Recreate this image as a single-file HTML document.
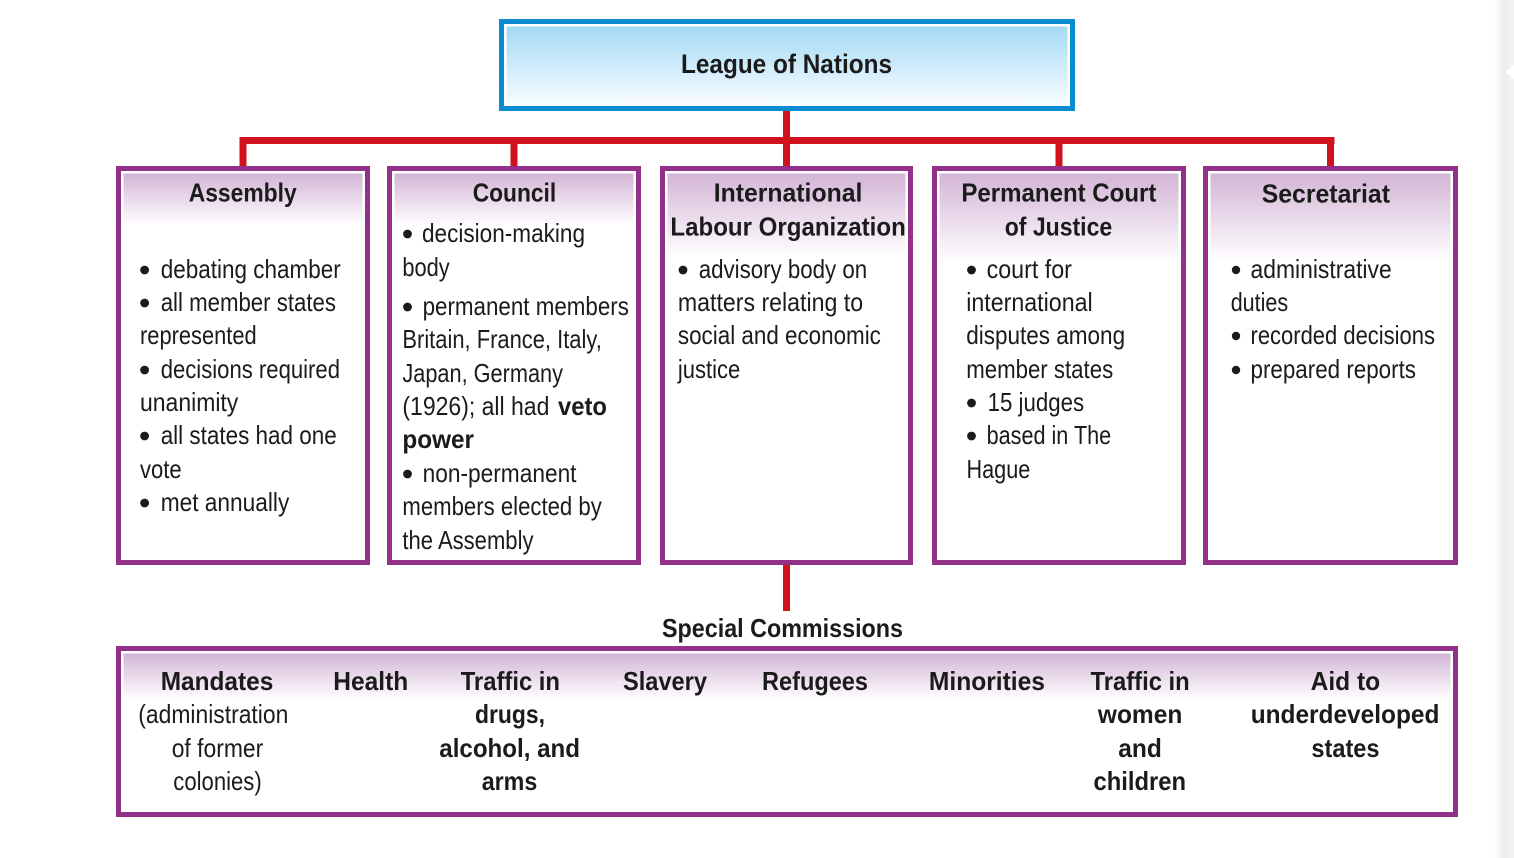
<!DOCTYPE html>
<html>
<head>
<meta charset="utf-8">
<style>
html,body{margin:0;padding:0;background:#fff;}
body{width:1514px;height:858px;overflow:hidden;}
svg{display:block;}
text{font-family:"Liberation Sans Narrow","Liberation Sans",sans-serif;fill:#1b1b1b;}
.b{font-weight:bold;}
</style>
</head>
<body>
<svg width="1514" height="858" viewBox="0 0 1514 858" xmlns="http://www.w3.org/2000/svg">
<defs>
<linearGradient id="bg" x1="0" y1="0" x2="0" y2="1">
<stop offset="0" stop-color="#a3d9f5"/>
<stop offset="1" stop-color="#f7fcff"/>
</linearGradient>
<linearGradient id="pg" x1="0" y1="0" x2="0" y2="1">
<stop offset="0" stop-color="#d3b5d6"/>
<stop offset="1" stop-color="#ffffff"/>
</linearGradient>
<linearGradient id="edge" x1="0" y1="0" x2="1" y2="0">
<stop offset="0" stop-color="#ffffff"/>
<stop offset="0.5" stop-color="#ececec"/>
<stop offset="1" stop-color="#f3f3f3"/>
</linearGradient>
</defs>

<!-- right edge strip -->
<rect x="1494" y="0" width="20" height="858" fill="url(#edge)"/>
<polygon points="1505,72 1514,65 1514,79" fill="#ffffff"/>

<!-- red connectors -->
<g fill="#d0121d">
<rect x="783" y="108" width="7" height="32"/>
<rect x="239.5" y="137" width="1095" height="7"/>
<rect x="239.5" y="137" width="7" height="31"/>
<rect x="510.5" y="137" width="7" height="31"/>
<rect x="783" y="137" width="7" height="31"/>
<rect x="1055.5" y="137" width="7" height="31"/>
<rect x="1327" y="137" width="7" height="31"/>
<rect x="783" y="563" width="7" height="48"/>
</g>

<!-- top box -->
<rect x="506.5" y="26.5" width="561" height="77" fill="url(#bg)"/>
<rect x="501.5" y="21.5" width="571" height="87" fill="none" stroke="#0a8dd0" stroke-width="5"/>
<text class="b" x="681" y="73" font-size="27" textLength="211" lengthAdjust="spacingAndGlyphs">League of Nations</text>

<!-- column header gradients -->
<rect x="123.5" y="173.5" width="239" height="52" fill="url(#pg)"/>
<rect x="394.5" y="173.5" width="239" height="52" fill="url(#pg)"/>
<rect x="667.5" y="173.5" width="238" height="84" fill="url(#pg)"/>
<rect x="939.5" y="173.5" width="239" height="90" fill="url(#pg)"/>
<rect x="1210.5" y="173.5" width="240" height="88" fill="url(#pg)"/>

<!-- column boxes -->
<g fill="none" stroke="#92318a" stroke-width="5">
<rect x="118.5" y="168.5" width="249" height="394"/>
<rect x="389.5" y="168.5" width="249" height="394"/>
<rect x="662.5" y="168.5" width="248" height="394"/>
<rect x="934.5" y="168.5" width="249" height="394"/>
<rect x="1205.5" y="168.5" width="250" height="394"/>
</g>

<!-- headers -->
<g class="b" font-size="26">
<text class="b" x="188.7" y="201.5" textLength="108" lengthAdjust="spacingAndGlyphs">Assembly</text>
<text class="b" x="472.7" y="201.5" textLength="83.5" lengthAdjust="spacingAndGlyphs">Council</text>
<text class="b" x="713.7" y="201.5" textLength="148.7" lengthAdjust="spacingAndGlyphs">International</text>
<text class="b" x="670.4" y="235.5" textLength="235.4" lengthAdjust="spacingAndGlyphs">Labour Organization</text>
<text class="b" x="961.4" y="201.5" textLength="195" lengthAdjust="spacingAndGlyphs">Permanent Court</text>
<text class="b" x="1004.7" y="235.5" textLength="107.5" lengthAdjust="spacingAndGlyphs">of Justice</text>
<text class="b" x="1261.7" y="202.5" textLength="128.3" lengthAdjust="spacingAndGlyphs">Secretariat</text>
</g>

<!-- bullets -->
<g fill="#1b1b1b">
<circle cx="144.6" cy="270" r="4.4"/>
<circle cx="144.6" cy="303" r="4.4"/>
<circle cx="144.6" cy="370" r="4.4"/>
<circle cx="144.6" cy="436" r="4.4"/>
<circle cx="144.6" cy="503" r="4.4"/>

<circle cx="407.5" cy="234" r="4.4"/>
<circle cx="407.5" cy="307" r="4.4"/>
<circle cx="407.5" cy="474" r="4.4"/>

<circle cx="683" cy="270" r="4.4"/>

<circle cx="971.5" cy="270" r="4.4"/>
<circle cx="971.5" cy="403" r="4.4"/>
<circle cx="971.5" cy="436" r="4.4"/>

<circle cx="1236" cy="270" r="4.2"/>
<circle cx="1236" cy="336" r="4.2"/>
<circle cx="1236" cy="370" r="4.2"/>
</g>

<!-- body text -->
<g font-size="26">
<!-- Assembly -->
<text x="160.7" y="278" textLength="180" lengthAdjust="spacingAndGlyphs">debating chamber</text>
<text x="160.7" y="311" textLength="175.3" lengthAdjust="spacingAndGlyphs">all member states</text>
<text x="140" y="344" textLength="116.7" lengthAdjust="spacingAndGlyphs">represented</text>
<text x="160.7" y="378" textLength="179.3" lengthAdjust="spacingAndGlyphs">decisions required</text>
<text x="140" y="411" textLength="98.3" lengthAdjust="spacingAndGlyphs">unanimity</text>
<text x="160.7" y="444" textLength="176" lengthAdjust="spacingAndGlyphs">all states had one</text>
<text x="140" y="478" textLength="41.7" lengthAdjust="spacingAndGlyphs">vote</text>
<text x="160.7" y="511" textLength="128.6" lengthAdjust="spacingAndGlyphs">met annually</text>

<!-- Council -->
<text x="422" y="242" textLength="163" lengthAdjust="spacingAndGlyphs">decision-making</text>
<text x="402.4" y="276" textLength="47.3" lengthAdjust="spacingAndGlyphs">body</text>
<text x="422.6" y="315" textLength="206.3" lengthAdjust="spacingAndGlyphs">permanent members</text>
<text x="402.4" y="348" textLength="199.4" lengthAdjust="spacingAndGlyphs">Britain, France, Italy,</text>
<text x="402.4" y="382" textLength="160.6" lengthAdjust="spacingAndGlyphs">Japan, Germany</text>
<text x="402.4" y="415" textLength="147" lengthAdjust="spacingAndGlyphs">(1926); all had</text>
<text class="b" x="558" y="415" textLength="49" lengthAdjust="spacingAndGlyphs">veto</text>
<text class="b" x="402.4" y="448" textLength="71.6" lengthAdjust="spacingAndGlyphs">power</text>
<text x="422.6" y="482" textLength="153.9" lengthAdjust="spacingAndGlyphs">non-permanent</text>
<text x="402.4" y="515" textLength="199.4" lengthAdjust="spacingAndGlyphs">members elected by</text>
<text x="402.4" y="549" textLength="131.1" lengthAdjust="spacingAndGlyphs">the Assembly</text>

<!-- ILO -->
<text x="698.7" y="278" textLength="168.5" lengthAdjust="spacingAndGlyphs">advisory body on</text>
<text x="677.9" y="311" textLength="185.2" lengthAdjust="spacingAndGlyphs">matters relating to</text>
<text x="677.9" y="344" textLength="203" lengthAdjust="spacingAndGlyphs">social and economic</text>
<text x="677.9" y="378" textLength="62.4" lengthAdjust="spacingAndGlyphs">justice</text>

<!-- PCIJ -->
<text x="986.6" y="278" textLength="85.3" lengthAdjust="spacingAndGlyphs">court for</text>
<text x="966.2" y="311" textLength="126.5" lengthAdjust="spacingAndGlyphs">international</text>
<text x="966.2" y="344" textLength="158.9" lengthAdjust="spacingAndGlyphs">disputes among</text>
<text x="966.2" y="378" textLength="147" lengthAdjust="spacingAndGlyphs">member states</text>
<text x="987.6" y="411" textLength="96.6" lengthAdjust="spacingAndGlyphs">15 judges</text>
<text x="986.6" y="444" textLength="124.6" lengthAdjust="spacingAndGlyphs">based in The</text>
<text x="966.5" y="478" textLength="63.8" lengthAdjust="spacingAndGlyphs">Hague</text>

<!-- Secretariat -->
<text x="1250.5" y="278" textLength="141.2" lengthAdjust="spacingAndGlyphs">administrative</text>
<text x="1230.7" y="311" textLength="57.5" lengthAdjust="spacingAndGlyphs">duties</text>
<text x="1250.5" y="344" textLength="184.5" lengthAdjust="spacingAndGlyphs">recorded decisions</text>
<text x="1250.5" y="378" textLength="165.5" lengthAdjust="spacingAndGlyphs">prepared reports</text>
</g>

<!-- Special commissions -->
<text class="b" x="662" y="637" font-size="26" textLength="241" lengthAdjust="spacingAndGlyphs">Special Commissions</text>

<rect x="123.5" y="653.5" width="1327" height="46" fill="url(#pg)"/>
<rect x="118.5" y="648.5" width="1337" height="166" fill="none" stroke="#92318a" stroke-width="5"/>

<g font-size="26">
<text class="b" x="160.7" y="690" textLength="112.6" lengthAdjust="spacingAndGlyphs">Mandates</text>
<text x="138.3" y="723" textLength="150" lengthAdjust="spacingAndGlyphs">(administration</text>
<text x="171.7" y="757" textLength="91.6" lengthAdjust="spacingAndGlyphs">of former</text>
<text x="173.3" y="790" textLength="88.4" lengthAdjust="spacingAndGlyphs">colonies)</text>

<text class="b" x="333.3" y="690" textLength="75" lengthAdjust="spacingAndGlyphs">Health</text>

<text class="b" x="460.7" y="690" textLength="99.3" lengthAdjust="spacingAndGlyphs">Traffic in</text>
<text class="b" x="475" y="723" textLength="70" lengthAdjust="spacingAndGlyphs">drugs,</text>
<text class="b" x="439.3" y="757" textLength="140.7" lengthAdjust="spacingAndGlyphs">alcohol, and</text>
<text class="b" x="481.7" y="790" textLength="55.6" lengthAdjust="spacingAndGlyphs">arms</text>

<text class="b" x="623" y="690" textLength="84" lengthAdjust="spacingAndGlyphs">Slavery</text>
<text class="b" x="762" y="690" textLength="106" lengthAdjust="spacingAndGlyphs">Refugees</text>
<text class="b" x="928.9" y="690" textLength="116.1" lengthAdjust="spacingAndGlyphs">Minorities</text>

<text class="b" x="1090.5" y="690" textLength="99.2" lengthAdjust="spacingAndGlyphs">Traffic in</text>
<text class="b" x="1097.9" y="723" textLength="84.4" lengthAdjust="spacingAndGlyphs">women</text>
<text class="b" x="1118.3" y="757" textLength="43.6" lengthAdjust="spacingAndGlyphs">and</text>
<text class="b" x="1093.5" y="790" textLength="92.5" lengthAdjust="spacingAndGlyphs">children</text>

<text class="b" x="1310.6" y="690" textLength="69.6" lengthAdjust="spacingAndGlyphs">Aid to</text>
<text class="b" x="1250.7" y="723" textLength="188.7" lengthAdjust="spacingAndGlyphs">underdeveloped</text>
<text class="b" x="1311.4" y="757" textLength="68.1" lengthAdjust="spacingAndGlyphs">states</text>
</g>
</svg>
</body>
</html>
